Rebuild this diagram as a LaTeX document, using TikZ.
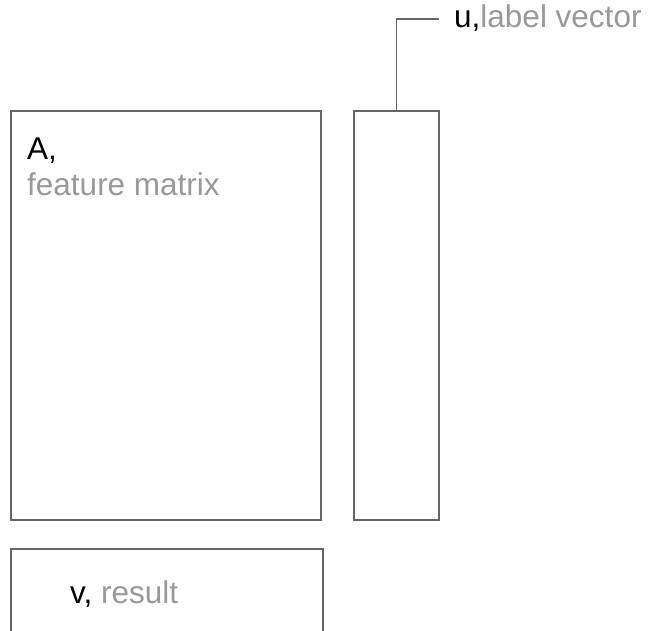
\documentclass[tikz,border=0pt]{standalone}
\usepackage{fontspec}
\setmainfont{Liberation Sans}
\usetikzlibrary{positioning}

\definecolor{linegray}{HTML}{666666}
\definecolor{textgray}{HTML}{999999}

\begin{document}
\begin{tikzpicture}[x=1pt,y=-1pt,
    block/.style={draw=linegray,line width=1.8pt,rectangle,inner sep=0pt,outer sep=0pt},
    leader/.style={draw=linegray,line width=1.8pt},
    tag/.style={font=\fontsize{31.5}{36}\selectfont,inner sep=0pt,anchor=base west}]
  \clip (0,0) rectangle (650,631);
  % matrix, vector and result blocks
  \node[block,minimum width=310pt,minimum height=409pt] (A) at (166,315.5) {};
  \node[block,minimum width=85pt,minimum height=409pt,right=33pt of A] (u) {};
  \node[block,minimum width=312pt,minimum height=140pt,anchor=north west] (v) at (11,549) {};
  % labels
  \node[tag] (A_name) at (27,160) {A,};
  \node[tag,text=textgray] (A_desc) at ([yshift=-36pt]A_name.base west) {feature matrix};
  \node[tag] (u_name) at (454,28) {u,\textcolor{textgray}{label vector}};
  \node[tag] (v_name) at (70,603) {v, \textcolor{textgray}{result}};
  % leader from the vector up to its label
  \coordinate (u_end) at (439,19);
  \path[leader] (u.north) |- (u_end);
\end{tikzpicture}
\end{document}
